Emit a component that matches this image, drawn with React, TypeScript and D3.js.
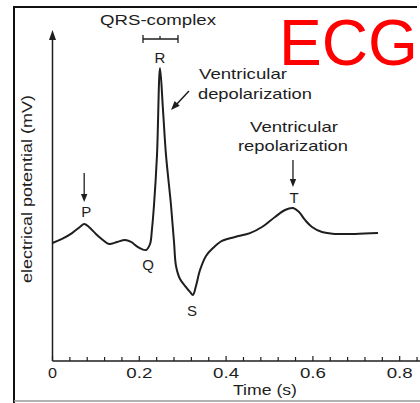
import React from "react";
import * as d3 from "d3";

// ECG trace (time in s, potential in mV)
const timeS = [
  0.0, 0.022, 0.045, 0.063, 0.073, 0.084, 0.1, 0.116, 0.13, 0.149, 0.167, 0.181, 0.197,
  0.2154, 0.2247, 0.229, 0.2339, 0.2408, 0.2477, 0.2546, 0.2615, 0.273, 0.28, 0.2846,
  0.2938, 0.3076, 0.3168, 0.3237, 0.3306, 0.3399, 0.3537, 0.3698, 0.3905, 0.4205,
  0.4551, 0.4827, 0.5127, 0.5357, 0.5541, 0.568, 0.5818, 0.5979, 0.621, 0.6509, 0.697, 0.75,
];
const potentialMV = [
  0.02, 0.048, 0.089, 0.131, 0.152, 0.131, 0.083, 0.041, 0.013, 0.027, 0.041, 0.027, -0.008,
  -0.029, 0.013, 0.11, 0.284, 0.632, 1.236, 0.944, 0.632, 0.284, 0.027, -0.14,
  -0.23, -0.286, -0.32, -0.341, -0.279, -0.168, -0.07, -0.015, 0.034, 0.062,
  0.089, 0.131, 0.201, 0.249, 0.263, 0.235, 0.18, 0.131, 0.096, 0.083, 0.083, 0.089,
];
const xTickLabels = [0, 0.2, 0.4, 0.6, 0.8];
const xMinorTicks = d3.range(0, 0.841, 0.04);

// Wave labels: name and the time/potential of the feature
const waveNames = ["P", "Q", "R", "S", "T"];
const waveTimes = [0.073, 0.2154, 0.2477, 0.3237, 0.5541];
const waveValues = [0.152, -0.029, 1.236, -0.341, 0.263];

const W = 420;
const H = 403;
const FONT = "'Liberation Sans', Arial, Helvetica, sans-serif";
const INK = "#1e1e1e";

export default function App() {
  const x = d3.scaleLinear().domain([0, 0.8]).range([52.5, 399.7]);
  const y = d3.scaleLinear().domain([-0.8, 1.5]).range([361, 30]);
  const pts: [number, number][] = timeS.map((t, i) => [t, potentialMV[i]]);
  const line = d3
    .line<[number, number]>()
    .x((d) => x(d[0]))
    .y((d) => y(d[1]))
    .curve(d3.curveCatmullRom.alpha(0.5));

  const axisX = x(0);
  const axisY = y(-0.8);
  const topY = y(1.5);

  const wave = (name: string) => {
    const i = waveNames.indexOf(name);
    return { px: x(waveTimes[i]), py: y(waveValues[i]) };
  };
  const P = wave("P");
  const Q = wave("Q");
  const R = wave("R");
  const S = wave("S");
  const T = wave("T");

  const arrowHead = (tx: number, ty: number, fx: number, fy: number, len = 8, half = 3.2) => {
    const ang = Math.atan2(ty - fy, tx - fx);
    const bx = tx - len * Math.cos(ang);
    const by = ty - len * Math.sin(ang);
    const nx = -Math.sin(ang) * half;
    const ny = Math.cos(ang) * half;
    return `M${tx},${ty}L${bx + nx},${by + ny}L${bx - nx},${by - ny}Z`;
  };

  const txt = { fontFamily: FONT, fill: INK } as const;

  return (
    <svg
      width={W}
      height={H}
      style={{ position: "absolute", left: 0, top: 0, background: "#fff" }}
    >
      {/* frame */}
      <line x1={14} y1={7} x2={417} y2={7} stroke="#111" strokeWidth={2} />
      <line x1={14} y1={6} x2={14} y2={403} stroke="#111" strokeWidth={2} />
      <line x1={14} y1={401} x2={420} y2={401} stroke="#999" strokeWidth={1.5} />

      {/* y axis with arrow */}
      <line x1={axisX} y1={axisY} x2={axisX} y2={topY + 6} stroke={INK} strokeWidth={1.5} />
      <path d={arrowHead(axisX, topY, axisX, topY + 20, 10, 3.5)} fill={INK} />

      {/* x axis */}
      <line x1={axisX} y1={axisY} x2={420} y2={axisY} stroke={INK} strokeWidth={1.5} />
      {xMinorTicks.map((t, i) => (
        <line
          key={"mt" + i}
          x1={x(t)}
          x2={x(t)}
          y1={axisY}
          y2={axisY - (i % 5 === 0 ? 5 : 4)}
          stroke={INK}
          strokeWidth={1.2}
        />
      ))}
      {xTickLabels.map((t) => {
        const label = t === 0 ? "0" : t.toFixed(1);
        return (
          <text
            key={"tl" + t}
            x={x(t)}
            y={378}
            textAnchor="middle"
            fontSize={14}
            textLength={label.length === 1 ? 9 : 26}
            lengthAdjust="spacingAndGlyphs"
            {...txt}
          >
            {label}
          </text>
        );
      })}
      <text
        x={265}
        y={395}
        textAnchor="middle"
        fontSize={14.5}
        textLength={64}
        lengthAdjust="spacingAndGlyphs"
        {...txt}
      >
        Time (s)
      </text>
      <text
        transform={`translate(32,189) rotate(-90)`}
        textAnchor="middle"
        fontSize={15}
        textLength={188}
        lengthAdjust="spacingAndGlyphs"
        {...txt}
      >
        electrical potential (mV)
      </text>

      {/* trace */}
      <path d={line(pts) || ""} fill="none" stroke={INK} strokeWidth={2} strokeLinejoin="round" />

      {/* QRS-complex */}
      <text
        x={158}
        y={25}
        textAnchor="middle"
        fontSize={14.5}
        textLength={116}
        lengthAdjust="spacingAndGlyphs"
        {...txt}
      >
        QRS-complex
      </text>
      <g stroke={INK} strokeWidth={1.3}>
        <line x1={143} x2={178} y1={39} y2={39} />
        <line x1={143} x2={143} y1={35} y2={43} />
        <line x1={178} x2={178} y1={35} y2={43} />
        <line x1={R.px} x2={R.px} y1={36} y2={39} />
      </g>

      {/* wave letters */}
      <text x={P.px + 2} y={217} textAnchor="middle" fontSize={15} {...txt}>P</text>
      <text x={Q.px + 2} y={270} textAnchor="middle" fontSize={15} {...txt}>Q</text>
      <text x={R.px} y={63} textAnchor="middle" fontSize={15} {...txt}>R</text>
      <text x={S.px - 1} y={316} textAnchor="middle" fontSize={15} {...txt}>S</text>
      <text x={T.px + 1} y={203} textAnchor="middle" fontSize={15} {...txt}>T</text>

      {/* P arrow */}
      <line x1={P.px} x2={P.px} y1={173} y2={196} stroke={INK} strokeWidth={1.3} />
      <path d={arrowHead(P.px, 202, P.px, 173, 8, 3.2)} fill={INK} />

      {/* depolarization label + arrow */}
      <text x={199} y={79} fontSize={14.5} textLength={88} lengthAdjust="spacingAndGlyphs" {...txt}>
        Ventricular
      </text>
      <text x={198} y={99} fontSize={14.5} textLength={114} lengthAdjust="spacingAndGlyphs" {...txt}>
        depolarization
      </text>
      <line x1={189} y1={91} x2={175} y2={106} stroke={INK} strokeWidth={1.5} />
      <path d={arrowHead(R.px + 11, 110, 189, 91, 9, 3.5)} fill={INK} />

      {/* repolarization label + arrow */}
      <text x={294} y={132} textAnchor="middle" fontSize={14.5} textLength={88} lengthAdjust="spacingAndGlyphs" {...txt}>
        Ventricular
      </text>
      <text x={293} y={151} textAnchor="middle" fontSize={14.5} textLength={110} lengthAdjust="spacingAndGlyphs" {...txt}>
        repolarization
      </text>
      <line x1={T.px} x2={T.px} y1={160} y2={181} stroke={INK} strokeWidth={1.3} />
      <path d={arrowHead(T.px, 187, T.px, 160, 8, 3.2)} fill={INK} />

      {/* title */}
      <text
        x={279}
        y={65}
        fontSize={65}
        textLength={139}
        lengthAdjust="spacingAndGlyphs"
        fill="#ff0000"
        fontFamily={FONT}
      >
        ECG
      </text>
    </svg>
  );
}
